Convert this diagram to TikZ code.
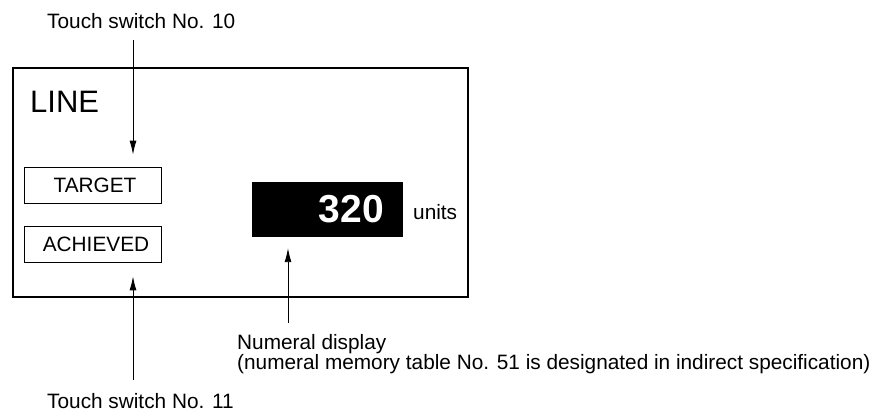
\documentclass[tikz,border=0pt]{standalone}
\usepackage{fontspec}
\setmainfont{Liberation Sans}
\usetikzlibrary{arrows.meta}
\begin{document}
\begin{tikzpicture}[x=1pt,y=-1pt,
  txt/.style={inner sep=0pt,font=\fontsize{20.8}{20}\selectfont},
  swbox/.style={draw,line width=0.8pt,minimum width=137pt,minimum height=36pt,
    inner sep=0pt,font=\fontsize{20.8}{20}\selectfont},
  arr/.style={-{Latex[length=14pt,width=7pt]},line width=0.9pt}]

\useasboundingbox (0,0) rectangle (890,411);

% Cadre
\draw[line width=1.3pt]
(13,68)
rectangle
(468,297);

% Titre
\node[inner sep=0pt,font=\fontsize{31}{36}\selectfont,anchor=base west]
(title) at (30,113)
{LINE};

% Touches
\node[swbox] (target) at (92.5,185)
{\hspace{5pt}TARGET};

\node[swbox] (achieved) at (92.5,244)
{\hspace{7pt}ACHIEVED};

% Afficheur
\node[fill=black,minimum width=151pt,minimum height=55pt,inner sep=0pt]
(display) at (327.5,209.5) {};

\node[anchor=east,text=white,inner sep=0pt,
  font=\fontsize{39}{44}\selectfont\bfseries]
(value) at ([xshift=-19pt]display.east)
{320};

\node[txt,anchor=west]
(units) at (413,212)
{units};

% Etiquettes
\node[txt,anchor=base west]
(sw10) at (47,29)
{Touch switch No. 10};

\node[txt,anchor=base west]
(sw11) at (47,408)
{Touch switch No. 11};

\node[txt,anchor=north west,align=left]
(numlbl) at (237,334)
{Numeral display\\(numeral memory table No. 51 is designated in indirect specification)};

% Fleches
\coordinate (a10) at (133,40);
\coordinate (a11) at (133,380);
\coordinate (anum) at (288,323);

\draw[arr,shorten >=12pt]
(a10)
--
(a10 |- target.north);

\draw[arr,shorten >=14pt]
(a11)
--
(a11 |- achieved.south);

\draw[arr,shorten >=11pt]
(anum)
--
(anum |- display.south);

\end{tikzpicture}
\end{document}
